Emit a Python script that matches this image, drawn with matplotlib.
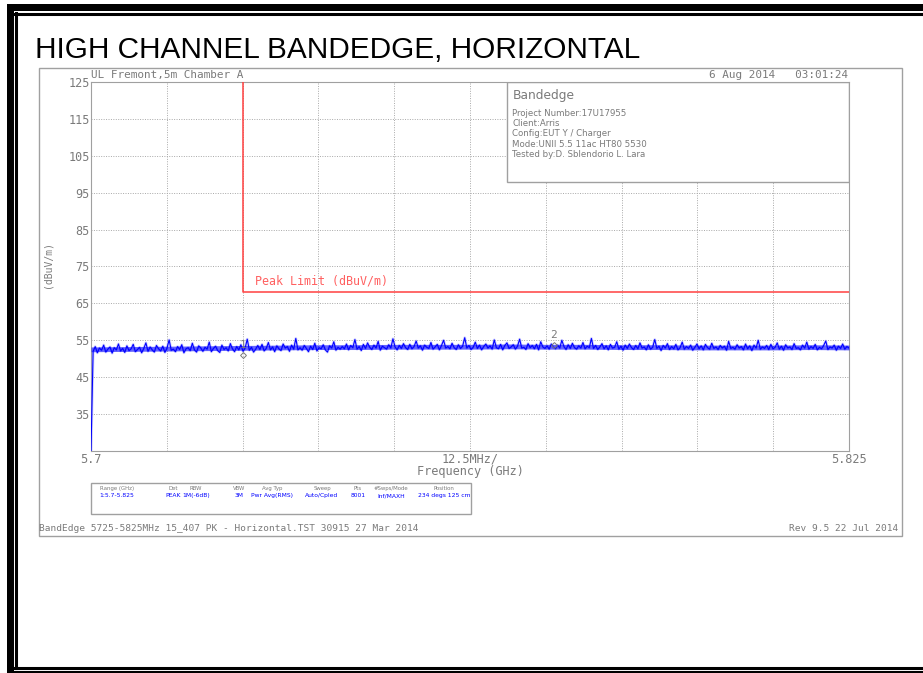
import numpy as np
import matplotlib.pyplot as plt
from matplotlib.patches import Rectangle

# sweep trace (dBuV/m), 5.7 .. 5.825 GHz
trace_db = [
    25.0, 52.0, 53.3, 51.6, 52.9, 52.3, 53.7, 51.8, 52.6, 53.2, 51.5, 53.0, 52.4, 54.0, 52.1, 52.8, 51.7, 53.5, 52.2, 52.7,
    53.9, 51.9, 52.5, 53.1, 51.6, 52.8, 54.3, 52.0, 53.2, 52.4, 51.8, 53.6, 52.7, 52.1, 53.4, 51.7, 52.9, 55.1, 52.3, 52.6,
    51.9, 53.3, 52.5, 53.8, 51.6, 52.7, 53.0, 52.2, 54.2, 52.4, 51.8, 53.5, 52.9, 52.0, 53.1, 52.6, 54.5, 51.9, 52.8, 53.4,
    52.2, 51.7, 53.7, 52.5, 53.0, 52.1, 54.1, 52.7, 51.9, 53.3, 52.4, 53.8, 52.0, 52.9, 55.3, 52.3, 53.1, 51.8, 52.6, 53.6,
    52.5, 53.9, 52.1, 52.8, 54.4, 52.4, 53.2, 51.9, 53.5, 52.7, 52.2, 54.0, 52.9, 53.3, 52.0, 53.7, 52.6, 55.5, 52.4, 53.0,
    52.3, 53.6, 52.8, 51.9, 53.4, 52.5, 54.2, 52.1, 53.0, 52.7, 53.8, 52.4, 51.8, 53.5, 52.9, 54.6, 52.3, 53.1, 52.6, 53.3,
    52.7, 54.0, 52.4, 53.6, 53.0, 55.2, 52.6, 53.3, 52.2, 53.9, 52.8, 54.3, 53.1, 52.5, 53.7, 52.9, 54.7, 52.3, 53.4, 53.0,
    52.6, 53.8, 52.9, 55.4, 53.2, 52.4, 53.6, 52.8, 54.1, 53.0, 52.5, 53.9, 52.7, 53.3, 54.8, 52.9, 53.5, 52.3, 53.7, 53.1,
    52.8, 54.4, 52.6, 53.2, 53.9, 52.4, 53.6, 55.0, 52.9, 53.3, 52.7, 54.2, 53.0, 52.5, 53.8, 52.8, 53.4, 55.7, 52.9, 53.6,
    52.5, 53.1, 54.5, 52.8, 53.7, 52.4, 53.3, 54.0, 52.9, 53.5, 52.6, 55.1, 53.0, 52.7, 53.9, 52.4, 53.6, 54.3, 52.8, 53.2,
    53.8, 52.6, 53.4, 55.3, 52.9, 53.1, 52.5, 54.1, 53.0, 53.6, 52.7, 53.9, 52.4, 54.6, 53.2, 52.8, 53.5, 52.6, 54.0, 53.1,
    52.7, 53.7, 52.9, 55.0, 53.3, 52.5, 53.8, 52.8, 54.2, 53.0, 52.6, 53.5, 52.9, 54.4, 52.7, 53.4, 53.0, 55.5, 52.8, 53.6,
    52.5, 53.2, 54.1, 52.7, 53.5, 52.4, 53.9, 52.9, 53.1, 54.6, 52.6, 53.4, 52.3, 53.7, 52.8, 54.0, 53.0, 52.5, 53.6, 52.7,
    54.3, 52.9, 53.2, 52.4, 53.8, 52.6, 53.1, 55.2, 52.8, 53.4, 52.2, 53.6, 52.9, 54.1, 52.5, 53.3, 52.7, 53.9, 52.4, 53.0,
    54.5, 52.6, 53.3, 52.8, 53.7, 52.3, 53.1, 54.0, 52.7, 53.5, 52.4, 53.9, 53.0, 52.6, 54.2, 52.8, 53.2, 52.5, 53.6, 52.9,
    53.4, 52.3, 54.7, 52.8, 53.1, 52.6, 53.8, 52.9, 53.3, 52.4, 54.0, 52.7, 53.5, 52.2, 53.7, 52.9, 55.0, 52.6, 53.2, 52.8,
    53.6, 52.5, 53.9, 52.7, 53.1, 54.3, 52.6, 53.4, 52.3, 53.8, 52.9, 53.2, 52.5, 54.1, 52.8, 53.0, 52.4, 53.7, 52.9, 54.5,
    52.6, 53.3, 52.8, 53.9, 52.4, 53.1, 52.7, 53.6, 54.8, 52.5, 53.2, 52.9, 53.7, 52.3, 53.4, 52.8, 54.0, 52.6, 53.3, 52.9]
f_start, f_stop = 5.7, 5.825

# dense core of the 8001-pt sweep, every 6.25 MHz
band_hi = [53.2, 53.3, 53.4, 53.5, 53.6, 53.7, 53.8, 53.8, 53.9, 53.9, 53.9, 54.0, 53.9, 53.9,
           53.8, 53.8, 53.7, 53.7, 53.7, 53.8, 53.7]
band_lo = [51.9, 52.0, 52.1, 52.2, 52.3, 52.4, 52.5, 52.5, 52.6, 52.6, 52.6, 52.7, 52.6, 52.6,
           52.5, 52.5, 52.4, 52.4, 52.4, 52.5, 52.4]

# peak limit
limit_f = [5.725, 5.725, 5.825]
limit_db = [125, 68.2, 68.2]

# markers
mk_f = [5.725, 5.7763]
mk_db = [52.4, 55.2]
mk_lbl = ['1', '2']

y_ticks = [35, 45, 55, 65, 75, 85, 95, 105, 115, 125]

info_lines = ['Project Number:17U17955', 'Client:Arris', 'Config:EUT Y / Charger',
              'Mode:UNII 5.5 11ac HT80 5530', 'Tested by:D. Sblendorio L. Lara']
set_heads = ['Range (GHz)', 'Det', 'RBW', 'VBW', 'Avg Typ', 'Sweep', 'Pts', '#Swps/Mode', 'Position']
set_vals = ['1:5.7-5.825', 'PEAK', '1M(-6dB)', '3M', 'Pwr Avg(RMS)', 'Auto/Cpled', '8001', 'Inf/MAXH',
            '234 degs 125 cm']
set_x = [117, 173, 196, 239, 272, 322, 358, 391, 444]

W, H = 923, 673
gray = '#7a7a7a'
blue = '#0000ff'
mono = 'DejaVu Sans Mono'

fig = plt.figure(figsize=(W / 100, H / 100), dpi=100)

# page background with pixel coordinates
bg = fig.add_axes([0, 0, 1, 1])
bg.set_xlim(0, W)
bg.set_ylim(H, 0)
bg.axis('off')
bg.add_patch(Rectangle((7, 4), W, 6.5, color='black', lw=0))
bg.add_patch(Rectangle((7, 4), 6.5, H, color='black', lw=0))
bg.plot([14, W], [13.5, 13.5], color='black', lw=2.2)
bg.plot([16, 16], [13, 668], color='black', lw=2.2)
bg.plot([15, W], [668, 668], color='black', lw=2.2)
bg.plot([13, W], [672, 672], color='black', lw=2.2)
bg.text(35, 58, 'HIGH CHANNEL BANDEDGE, HORIZONTAL', fontsize=21.4, family='Liberation Sans',
        ha='left', va='baseline', color='black')
bg.add_patch(Rectangle((39, 68), 863, 468, fill=False, ec='#a0a0a0', lw=1))
bg.text(91, 78, 'UL Fremont,5m Chamber A', fontsize=7.9, family=mono, color=gray, va='baseline')
bg.text(848, 78, '6 Aug 2014   03:01:24', fontsize=7.9, family=mono, color=gray, va='baseline',
        ha='right')
bg.text(48, 265, '(dBuV/m)', fontsize=7, family=mono, color=gray, rotation=90, ha='center',
        va='center')
bg.text(470, 475, 'Frequency (GHz)', fontsize=8.6, family=mono, color=gray, ha='center',
        va='baseline')
bg.text(39, 531, 'BandEdge 5725-5825MHz 15_407 PK - Horizontal.TST 30915 27 Mar 2014',
        fontsize=6.8, family=mono, color=gray, va='baseline')
bg.text(898, 531, 'Rev 9.5 22 Jul 2014', fontsize=6.8, family=mono, color=gray, va='baseline',
        ha='right')
bg.add_patch(Rectangle((91, 483), 380, 31, fill=False, ec='#a0a0a0', lw=1))
for x, h, v in zip(set_x, set_heads, set_vals):
    bg.text(x, 490, h, fontsize=3.9, color=gray, ha='center', va='baseline')
    bg.text(x, 497, v, fontsize=4.3, color=blue, ha='center', va='baseline')

# analyzer plot
ax = fig.add_axes([91 / W, 1 - 451 / H, 758 / W, 369 / H])
ax.patch.set_alpha(0)
freq = np.linspace(f_start, f_stop, len(trace_db))
band_f = np.linspace(f_start, f_stop, len(band_hi))
ax.plot(freq, trace_db, color='#8888ff', lw=2.0, alpha=0.4, zorder=3)
ax.fill_between(band_f, band_lo, band_hi, color=blue, alpha=0.6, lw=0, zorder=3)
ax.plot(freq, trace_db, color=blue, lw=0.8, zorder=4)
ax.plot(limit_f, limit_db, color='#ff4040', lw=1.1, zorder=5)
ax.text(5.727, 70.0, 'Peak Limit (dBuV/m)', color='#ff6060', fontsize=8.4, family=mono,
        va='baseline')
for f, d, l in zip(mk_f, mk_db, mk_lbl):
    ax.plot(f, d - 1.5, marker='D', ms=3, mfc='none', mec=gray, mew=0.7, zorder=6)
    ax.text(f, d, l, color=gray, fontsize=8, family=mono, ha='center', va='bottom', zorder=6)

ax.set_xlim(f_start, f_stop)
ax.set_ylim(25, 125)
ax.set_xticks(np.linspace(f_start, f_stop, 11))
ax.set_xticklabels([])
ax.set_yticks(y_ticks)
ax.set_yticklabels([str(v) for v in y_ticks], fontsize=8.5, family=mono, color=gray)
ax.tick_params(length=0, pad=1)
ax.grid(True, color='#a8a8a8', ls=(0, (1, 1.5)), lw=0.7)
for s in ax.spines.values():
    s.set_color('#a0a0a0')
for xa, t in [(0, '5.7'), (0.5, '12.5MHz/'), (1, '5.825')]:
    ax.text(xa, -0.005, t, transform=ax.transAxes, fontsize=8.6, family=mono, color=gray,
            ha='center', va='top')

# info box
ax.add_patch(Rectangle((0.549, 0.729), 0.451, 0.271, transform=ax.transAxes, fill=False,
                       ec='#a0a0a0', lw=1, zorder=7))
ax.add_patch(Rectangle((0.549, 0.729), 0.451, 0.271, transform=ax.transAxes, fc='white',
                       lw=0, zorder=2))
ax.text(0.556, 0.982, 'Bandedge', transform=ax.transAxes, fontsize=8.8, color=gray, va='top')
for i, t in enumerate(info_lines):
    ax.text(0.556, 0.928 - i * 0.028, t, transform=ax.transAxes, fontsize=6.2, color=gray,
            va='top')

fig.savefig('out.png', dpi=100)
plt.close()
